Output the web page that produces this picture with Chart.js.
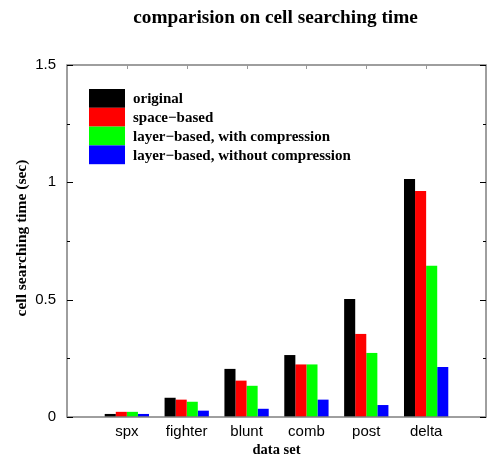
<!DOCTYPE html>
<html>
<head>
<meta charset="utf-8">
<script src="https://cdn.jsdelivr.net/npm/chart.js@4/dist/chart.umd.min.js"></script>
<style>
  body { margin: 0; background: #fff; }
</style>
</head>
<body>
<canvas id="cellChart" width="487" height="461"></canvas>
<script>
"use strict";

// data
const categories = ["spx", "fighter", "blunt", "comb", "post", "delta"];
const original = [0.013, 0.082, 0.205, 0.264, 0.503, 1.014];
const spaceBased = [0.022, 0.074, 0.155, 0.224, 0.354, 0.963];
const layerWithComp = [0.022, 0.065, 0.133, 0.224, 0.273, 0.644];
const layerWithoutComp = [0.013, 0.027, 0.035, 0.074, 0.051, 0.213];
const seriesNames = ["original", "space\u2212based", "layer\u2212based, with compression", "layer\u2212based, without compression"];
const seriesColors = ["#000000", "#ff0000", "#00ff00", "#0000ff"];
const yMajorTicks = [0, 0.5, 1, 1.5];

const chartTitle = "comparision on cell searching time";
const xTitle = "data set";
const yTitle = "cell searching time (sec)";

const serif = "'Liberation Serif', 'DejaVu Serif', serif";
const sans = "'Liberation Sans', Arial, sans-serif";

// empty slot on each side, like the gnuplot range
const labels = [""].concat(categories, [""]);
const pad = arr => [null].concat(arr, [null]);
const allSeries = [original, spaceBased, layerWithComp, layerWithoutComp];

const datasets = allSeries.map((vals, i) => ({
  label: seriesNames[i],
  data: pad(vals),
  backgroundColor: seriesColors[i],
  borderWidth: 0,
  categoryPercentage: 0.74,
  barPercentage: 1.0
}));

const framePlugin = {
  id: "frame",
  afterDatasetsDraw(chart) {
    const ctx = chart.ctx;
    const a = chart.chartArea;
    const xs = chart.scales.x;
    const ys = chart.scales.y;
    ctx.save();
    ctx.strokeStyle = "#7f7f7f";
    ctx.lineWidth = 1.5;
    ctx.strokeRect(a.left, a.top, a.right - a.left, a.bottom - a.top);
    ctx.strokeStyle = "#000";
    ctx.lineWidth = 1;
    // y ticks, inward on both sides
    ys.ticks.forEach(t => {
      const y = Math.round(ys.getPixelForValue(t.value)) + 0.5;
      const len = yMajorTicks.includes(t.value) ? 6 : 3;
      ctx.beginPath();
      ctx.moveTo(a.left, y); ctx.lineTo(a.left + len, y);
      ctx.moveTo(a.right, y); ctx.lineTo(a.right - len, y);
      ctx.stroke();
    });
    // x ticks on the top border
    ctx.strokeStyle = "#999";
    for (let i = 1; i <= categories.length; i++) {
      const x = Math.round(xs.getPixelForValue(i)) + 0.5;
      ctx.beginPath();
      ctx.moveTo(x, a.top); ctx.lineTo(x, a.top + 4);
      ctx.stroke();
    }
    ctx.restore();
  },
  afterDraw(chart) {
    const ctx = chart.ctx;
    const a = chart.chartArea;
    ctx.save();
    ctx.fillStyle = "#000";
    ctx.textAlign = "center";
    ctx.textBaseline = "middle";
    // title
    ctx.font = "bold 19.3px " + serif;
    ctx.fillText(chartTitle, (a.left + a.right) / 2 - 1, 18);
    // x title
    ctx.font = "bold 14.5px " + serif;
    ctx.fillText(xTitle, (a.left + a.right) / 2, 450);
    // y title
    ctx.save();
    ctx.translate(22, (a.top + a.bottom) / 2 - 3);
    ctx.rotate(-Math.PI / 2);
    ctx.font = "bold 15.5px " + serif;
    ctx.fillText(yTitle, 0, 0);
    ctx.restore();
    // legend
    const bx = 89, by = 89, bw = 36, bh = 18.8;
    ctx.textAlign = "left";
    ctx.font = "bold 15px " + serif;
    chart.data.datasets.forEach((ds, i) => {
      ctx.fillStyle = ds.backgroundColor;
      ctx.fillRect(bx, by + i * bh, bw, bh);
      ctx.fillStyle = "#000";
      ctx.fillText(ds.label, bx + bw + 8, by + i * bh + bh / 2 + 1);
    });
    ctx.restore();
  }
};

const cellChart = new Chart(document.getElementById("cellChart"), {
  type: "bar",
  data: { labels: labels, datasets: datasets },
  options: {
    responsive: false,
    animation: false,
    layout: { padding: { top: 65, right: 1, left: 0, bottom: 0 } },
    plugins: { legend: { display: false }, tooltip: { enabled: false }, title: { display: false } },
    scales: {
      x: {
        offset: false,
        grid: { display: false, drawTicks: false },
        border: { display: false },
        ticks: { font: { family: sans, size: 15 }, color: "#000", padding: 6, autoSkip: false, maxRotation: 0 },
        afterFit: s => { s.height = 44; s.paddingLeft = 0; s.paddingRight = 0; }
      },
      y: {
        min: 0,
        max: 1.5,
        grid: { display: false, drawTicks: false },
        border: { display: false },
        ticks: {
          stepSize: 0.25,
          font: { family: sans, size: 15 },
          color: "#000",
          padding: 11,
          callback: v => yMajorTicks.includes(v) ? String(v) : ""
        },
        afterFit: s => { s.width = 67; }
      }
    }
  },
  plugins: [framePlugin]
});
</script>
</body>
</html>
